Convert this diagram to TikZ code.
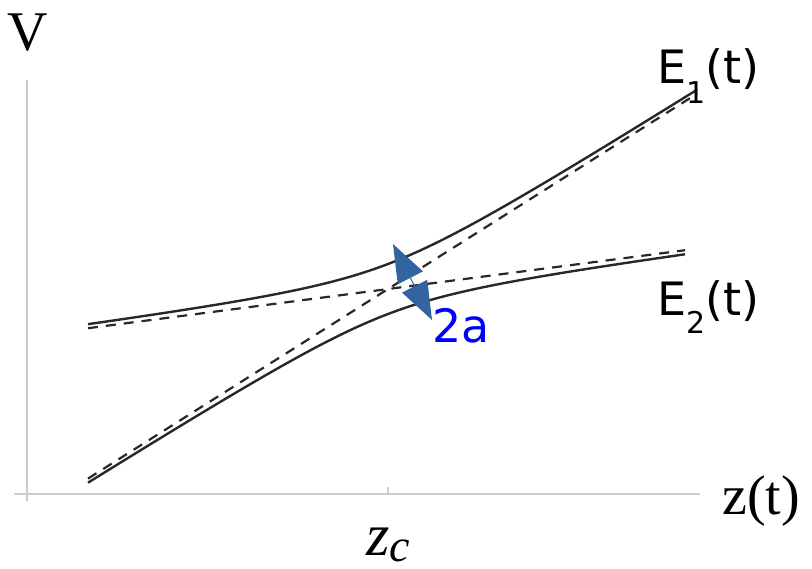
\documentclass[tikz,border=0pt]{standalone}
\usepackage{fontspec}
\setmainfont{Liberation Serif}
\newfontfamily\sanslblfont{DejaVu Sans}
\usetikzlibrary{arrows.meta}
\definecolor{curvegray}{RGB}{40,40,40}
\definecolor{axisgray}{RGB}{205,205,205}
\definecolor{gapblue}{RGB}{50,100,160}
\tikzset{
    axisline/.style={draw=axisgray, line width=0.9pt},
    adiab/.style={draw=curvegray, line width=1.2pt},
    diab/.style={draw=curvegray, line width=1.1pt, dash pattern=on 5pt off 4pt},
    gaparr/.style={{Triangle[length=19pt,width=14pt]}-{Triangle[length=19pt,width=14pt]},
                   draw=gapblue, fill=gapblue, line width=0.5pt},
    serlbl/.style={inner sep=0pt, anchor=base west, font=\fontsize{28}{30}\selectfont},
    sanslbl/.style={inner sep=0pt, anchor=base west, font=\sanslblfont\fontsize{23}{25}\selectfont},
}

\begin{document}
\begin{tikzpicture}[x=0.5pt, y=-0.5pt]
    \useasboundingbox (0,0) rectangle (812,568);

    \draw[axisline] (27,80) -- (27,501);
    \draw[axisline] (14,494) -- (700,494);
    \draw[axisline] (388,494) -- (388,487);

    \draw[diab] (88,478.6) -- (697,93.7);
    \draw[diab] (88,328.2) -- (685,250.2);
    \draw[adiab] plot[domain=88:697, samples=120, smooth]
        (\x, {289-0.3814*(\x-388)-sqrt((0.2507*(\x-388))^2+625)});
    \draw[adiab] plot[domain=88:685, samples=120, smooth]
        (\x, {289-0.3814*(\x-388)+sqrt((0.2507*(\x-388))^2+625)});

    \coordinate (gaptop) at (393,244);
    \coordinate (gapbot) at (432,320);
    \draw[gaparr] (gaptop) -- (gapbot);

    \node[serlbl] (vlbl) at (7,50) {V};
    \node[serlbl] (zlbl) at (722,514) {z(t)};
    \node[serlbl, font=\fontsize{30}{32}\selectfont] (zclbl) at (366,555)
        {\textit{z}\raisebox{-3pt}{\fontsize{23}{23}\selectfont\textit{c}}};
    \node[sanslbl] (eonelbl) at (657,83)
        {E\raisebox{-10pt}{\fontsize{15}{15}\selectfont 1}(t)};
    \node[sanslbl] (etwolbl) at (657,315)
        {E\raisebox{-9pt}{\fontsize{15}{15}\selectfont 2}(t)};
    \node[sanslbl, text=blue] (gaplbl) at (432,342) {2a};
\end{tikzpicture}
\end{document}
